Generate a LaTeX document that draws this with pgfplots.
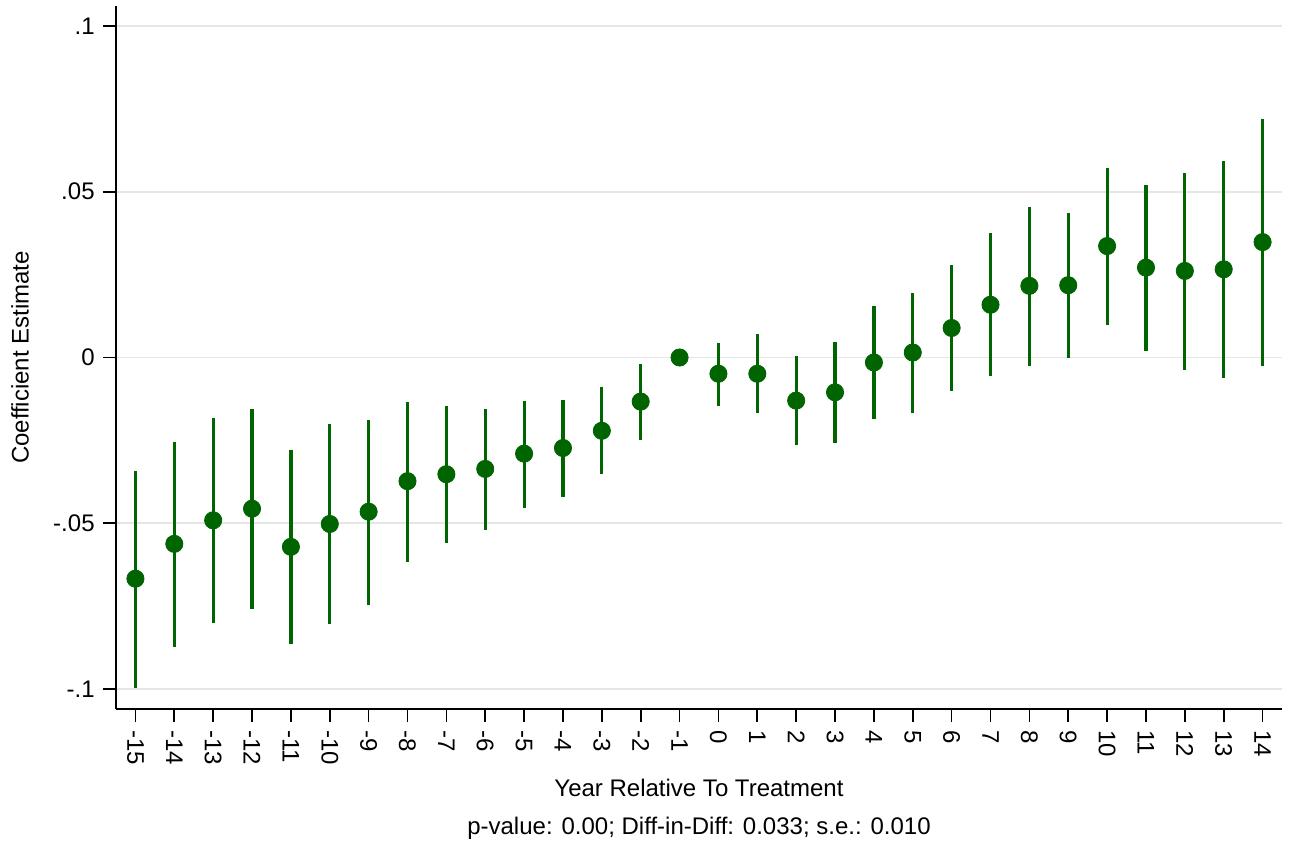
\documentclass[border=0pt]{standalone}
\usepackage{pgfplots}
\pgfplotsset{compat=1.18}
\usepackage{pgfplotstable}
\usepackage{fontspec}
\setmainfont{Liberation Sans}

\definecolor{estgreen}{RGB}{0,100,0}
\definecolor{gridgray}{RGB}{230,230,230}

% event-time coefficients with 95% confidence bounds
\pgfplotstableread{
x    y        lo       hi
-15 -0.0667  -0.0998  -0.0341
-14 -0.0562  -0.0872  -0.0256
-13 -0.0491  -0.0800  -0.0181
-12 -0.0456  -0.0757  -0.0154
-11 -0.0571  -0.0865  -0.0280
-10 -0.0502  -0.0803  -0.0202
-9  -0.0465  -0.0745  -0.0187
-8  -0.0373  -0.0616  -0.0134
-7  -0.0352  -0.0559  -0.0145
-6  -0.0336  -0.0519  -0.0155
-5  -0.0290  -0.0453  -0.0131
-4  -0.0273  -0.0420  -0.0127
-3  -0.0221  -0.0351  -0.0090
-2  -0.0133  -0.0248  -0.0019
-1   0.0000   0.0000   0.0000
0   -0.0049  -0.0146   0.0045
1   -0.0049  -0.0166   0.0070
2   -0.0130  -0.0265   0.0006
3   -0.0105  -0.0259   0.0047
4   -0.0015  -0.0186   0.0156
5    0.0015  -0.0167   0.0194
6    0.0089  -0.0100   0.0278
7    0.0159  -0.0057   0.0375
8    0.0216  -0.0025   0.0455
9    0.0218  -0.0003   0.0437
10   0.0336   0.0098   0.0572
11   0.0271   0.0020   0.0520
12   0.0261  -0.0037   0.0557
13   0.0266  -0.0062   0.0592
14   0.0348  -0.0027   0.0719
}\coefs

\begin{document}
\fontsize{12}{14}\selectfont
\begin{tikzpicture}
\begin{axis}[
  scale only axis,
  width=583pt, height=351.5pt,
  xmin=-15.5, xmax=14.5,
  ymin=-0.106, ymax=0.106,
  axis lines=left,
  axis line style={-, line width=0.85pt, black},
  tick style={line width=0.85pt, black},
  tick align=outside,
  major tick length=6.5pt,
  xtick={-15,...,14},
  xticklabels={-15,-14,-13,-12,-11,-10,-9,-8,-7,-6,-5,-4,-3,-2,-1,0,1,2,3,4,5,6,7,8,9,10,11,12,13,14},
  xticklabel style={rotate=-90, anchor=west, font=\fontsize{12}{14}\selectfont},
  ytick={-0.1,-0.05,0,0.05,0.1},
  yticklabels={-.1,-.05,0,.05,.1},
  yticklabel style={font=\fontsize{12}{14}\selectfont},
  ymajorgrids,
  grid style={gridgray, line width=0.9pt},
  xlabel={Year Relative To Treatment},
  xlabel style={at={(axis description cs:0.5,0)}, anchor=base, yshift=-44pt},
  ylabel={Coefficient Estimate},
  ylabel style={at={(axis description cs:-0.0823,0.5)}, anchor=center},
  clip=false,
]
\addplot[
  only marks, mark=*, mark size=4.3pt,
  mark options={fill=estgreen, draw=estgreen},
  error bars/.cd,
    y dir=both,
    y explicit,
    error mark=none,
    error bar style={line width=1.6pt, estgreen},
] table[
  x=x, y=y,
  y error plus expr=\thisrow{hi}-\thisrow{y},
  y error minus expr=\thisrow{y}-\thisrow{lo},
] {\coefs};
\node[anchor=base] at (axis description cs:0.5,0) [yshift=-62.5pt]
  {p-value: 0.00; Diff-in-Diff: 0.033; s.e.: 0.010};
\end{axis}
\path (current axis.south west) ++(-58pt,-70.5pt) rectangle ++(645pt,425pt);
\end{tikzpicture}
\end{document}
